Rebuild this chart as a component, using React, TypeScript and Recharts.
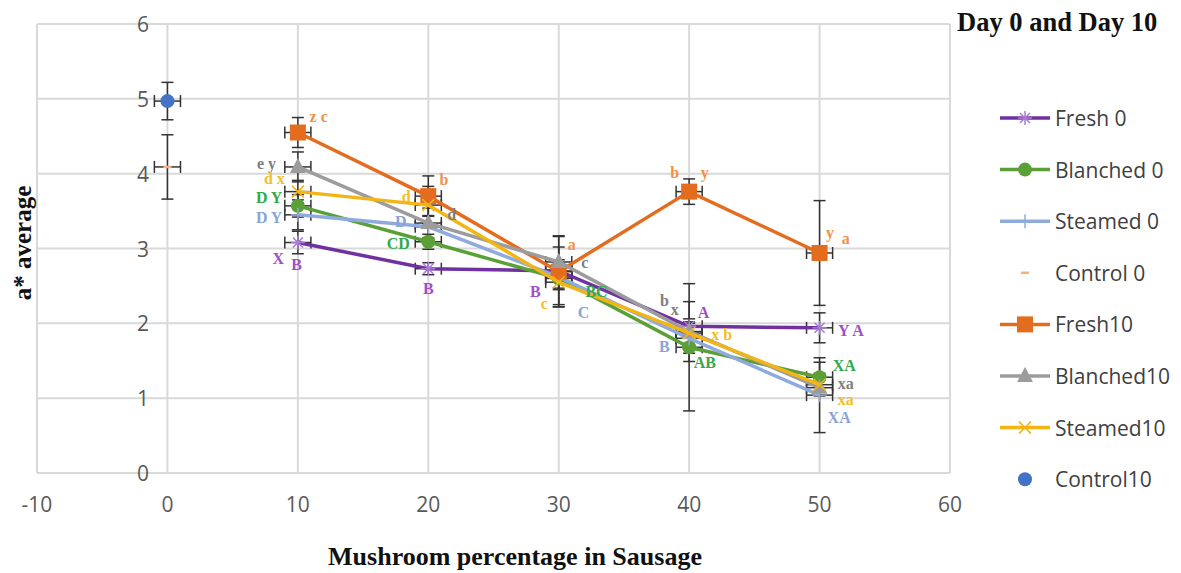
import React from 'react';
import { ComposedChart, Scatter, XAxis, YAxis, CartesianGrid, ErrorBar } from 'recharts';

// ---- data ----
const percentages = [10, 20, 30, 40, 50];
const controlPercent = [0];

const fresh0 = [3.08, 2.73, 2.70, 1.96, 1.94];
const blanched0 = [3.57, 3.09, 2.60, 1.68, 1.28];
const steamed0 = [3.45, 3.29, 2.62, 1.80, 1.04];
const control0 = [4.09];
const fresh10 = [4.55, 3.70, 2.69, 3.76, 2.94];
const blanched10 = [4.09, 3.34, 2.82, 1.89, 1.14];
const steamed10 = [3.76, 3.58, 2.55, 1.87, 1.18];
const control10 = [4.97];

const fresh0Err = [0.15, 0.08, 0.1, 0.1, 0.2];
const blanched0Err = [0.15, 0.1, 0.15, 0.85, 0.2];
const steamed0Err = [0.2, 0.15, 0.4, 0.2, 0.5];
const control0Err = [0.43];
const fresh10Err = [0.2, 0.27, 0.47, 0.17, 0.7];
const blanched10Err = [0.2, 0.2, 0.35, 0.4, 0.1];
const steamed10Err = [0.15, 0.25, 0.3, 0.15, 0.15];
const control10Err = [0.25];
const xErr = 1;

const xTicks = [-10, 0, 10, 20, 30, 40, 50, 60];
const yTicks = [0, 1, 2, 3, 4, 5, 6];

// significance letters (data coordinates)
const fresh0Notes = [
  { x: 8.5, y: 2.87, t: 'X' }, { x: 9.9, y: 2.78, t: 'B' }, { x: 20, y: 2.46, t: 'B' },
  { x: 28.2, y: 2.43, t: 'B' }, { x: 41.1, y: 2.15, t: 'A' }, { x: 52.4, y: 1.9, t: 'Y A' },
];
const blanched0Notes = [
  { x: 7.8, y: 3.68, t: 'D Y' }, { x: 17.7, y: 3.07, t: 'CD' }, { x: 32.9, y: 2.42, t: 'BC' },
  { x: 41.2, y: 1.48, t: 'AB' }, { x: 51.9, y: 1.43, t: 'XA' },
];
const steamed0Notes = [
  { x: 7.8, y: 3.42, t: 'D Y' }, { x: 17.9, y: 3.36, t: 'D' }, { x: 31.9, y: 2.15, t: 'C' },
  { x: 38.1, y: 1.69, t: 'B' }, { x: 51.5, y: 0.74, t: 'XA' },
];
const fresh10Notes = [
  { x: 11.6, y: 4.76, t: 'z c' }, { x: 21.2, y: 3.92, t: 'b' }, { x: 31.0, y: 3.06, t: 'a' },
  { x: 38.9, y: 4.02, t: 'b' }, { x: 41.2, y: 4.02, t: 'y' }, { x: 50.8, y: 3.22, t: 'y' },
  { x: 52.0, y: 3.13, t: 'a' },
];
const blanched10Notes = [
  { x: 7.6, y: 4.14, t: 'e y' }, { x: 21.8, y: 3.45, t: 'd' }, { x: 32.0, y: 2.81, t: 'c' },
  { x: 38.1, y: 2.31, t: 'b' }, { x: 38.9, y: 2.19, t: 'x' }, { x: 52.0, y: 1.2, t: 'xa' },
];
const steamed10Notes = [
  { x: 8.2, y: 3.93, t: 'd x' }, { x: 18.3, y: 3.69, t: 'd' }, { x: 28.9, y: 2.27, t: 'c' },
  { x: 42.5, y: 1.85, t: 'x b' }, { x: 52.0, y: 0.98, t: 'xa' },
];

const build = (xs: number[], ys: number[], es: number[]) =>
  xs.map((x, i) => ({ x, y: ys[i], ex: xErr, ey: es[i] }));

type Marker = 'asterisk' | 'circle' | 'plus' | 'dash' | 'square' | 'triangle' | 'cross';

const series: { name: string; data: any[]; color: string; markerColor: string; marker: Marker; line: boolean }[] = [
  { name: 'Fresh 0', data: build(percentages, fresh0, fresh0Err), color: '#7030A0', markerColor: '#A77BD6', marker: 'asterisk', line: true },
  { name: 'Blanched 0', data: build(percentages, blanched0, blanched0Err), color: '#5AA037', markerColor: '#5AA037', marker: 'circle', line: true },
  { name: 'Steamed 0', data: build(percentages, steamed0, steamed0Err), color: '#8FAADC', markerColor: '#8FAADC', marker: 'plus', line: true },
  { name: 'Control 0', data: build(controlPercent, control0, control0Err), color: '#F4B183', markerColor: '#F4B183', marker: 'dash', line: false },
  { name: 'Fresh10', data: build(percentages, fresh10, fresh10Err), color: '#E46C1F', markerColor: '#E46C1F', marker: 'square', line: true },
  { name: 'Blanched10', data: build(percentages, blanched10, blanched10Err), color: '#9C9C9C', markerColor: '#9C9C9C', marker: 'triangle', line: true },
  { name: 'Steamed10', data: build(percentages, steamed10, steamed10Err), color: '#F2B515', markerColor: '#F2B515', marker: 'cross', line: true },
  { name: 'Control10', data: build(controlPercent, control10, control10Err), color: '#4472C4', markerColor: '#4472C4', marker: 'circle', line: false },
];

const notes = [
  { data: fresh0Notes, color: '#A04FC8' },
  { data: blanched0Notes, color: '#34A84A' },
  { data: steamed0Notes, color: '#8AA4D6' },
  { data: fresh10Notes, color: '#F0924A' },
  { data: blanched10Notes, color: '#7F7F7F' },
  { data: steamed10Notes, color: '#F2BE2A' },
];

const drawMarker = (marker: Marker, cx: number, cy: number, color: string, key?: string) => {
  const r = 7;
  switch (marker) {
    case 'asterisk':
      return (
        <g key={key} stroke={color} strokeWidth={1.5}>
          <line x1={cx - r} y1={cy} x2={cx + r} y2={cy} />
          <line x1={cx} y1={cy - r} x2={cx} y2={cy + r} />
          <line x1={cx - 5} y1={cy - 5} x2={cx + 5} y2={cy + 5} />
          <line x1={cx - 5} y1={cy + 5} x2={cx + 5} y2={cy - 5} />
        </g>
      );
    case 'circle':
      return <circle key={key} cx={cx} cy={cy} r={7} fill={color} />;
    case 'plus':
      return (
        <g key={key} stroke={color} strokeWidth={1.5}>
          <line x1={cx - r} y1={cy} x2={cx + r} y2={cy} />
          <line x1={cx} y1={cy - r} x2={cx} y2={cy + r} />
        </g>
      );
    case 'dash':
      return <line key={key} x1={cx - 4} y1={cy} x2={cx + 4} y2={cy} stroke={color} strokeWidth={2.5} />;
    case 'square':
      return <rect key={key} x={cx - 8} y={cy - 8} width={16} height={16} fill={color} />;
    case 'triangle':
      return <polygon key={key} points={`${cx},${cy - 9} ${cx + 8},${cy + 6} ${cx - 8},${cy + 6}`} fill={color} />;
    case 'cross':
      return (
        <g key={key} stroke={color} strokeWidth={1.5}>
          <line x1={cx - 6} y1={cy - 6} x2={cx + 6} y2={cy + 6} />
          <line x1={cx - 6} y1={cy + 6} x2={cx + 6} y2={cy - 6} />
        </g>
      );
  }
  return null;
};

const serif = '"Liberation Serif", "Times New Roman", serif';
const sans = '"Open Sans", sans-serif';

const LegendBlock = () => (
  <g>
    {series.map((s, i) => {
      const y = 118 + i * 51.6;
      return (
        <g key={s.name}>
          {s.line && <line x1={1000} y1={y} x2={1050} y2={y} stroke={s.color} strokeWidth={3.5} />}
          {drawMarker(s.marker, 1025, y, s.markerColor)}
          <text x={1055} y={y} dominantBaseline="central" fontFamily={sans} fontSize={21} fill="#404040">
            {s.name}
          </text>
        </g>
      );
    })}
  </g>
);

const YTick = (p: any) => (
  <text
    x={p.x + 112}
    y={p.y}
    textAnchor="end"
    dominantBaseline="central"
    fontFamily={sans}
    fontSize={21}
    fill="#595959"
  >
    {p.payload.value}
  </text>
);

export default function App() {
  return (
    <div style={{ position: 'absolute', left: 0, top: 0, width: 1181, height: 573, background: '#fff' }}>
      <ComposedChart width={1181} height={573} margin={{ top: 24, right: 231, bottom: 70, left: 36 }}>
        <CartesianGrid stroke="#D9D9D9" strokeWidth={2} />
        <XAxis
          type="number"
          dataKey="x"
          domain={[-10, 60]}
          ticks={xTicks}
          height={30}
          tickLine={false}
          axisLine={{ stroke: '#D9D9D9', strokeWidth: 2 }}
          tickMargin={18}
          tick={{ fill: '#595959', fontSize: 21, fontFamily: sans }}
          allowDataOverflow
        />
        <YAxis
          type="number"
          dataKey="y"
          domain={[0, 6]}
          ticks={yTicks}
          width={1}
          tickLine={false}
          axisLine={false}
          tickMargin={0}
          tickSize={0}
          tick={<YTick />}
          allowDataOverflow
        />
        {series.map((s) => (
          <Scatter
            key={s.name}
            name={s.name}
            data={s.data}
            line={s.line ? { stroke: s.color, strokeWidth: 3.5 } : false}
            lineType="joint"
            isAnimationActive={false}
            shape={(p: any) => drawMarker(s.marker, p.cx, p.cy, s.markerColor)}
          >
            <ErrorBar dataKey="ey" direction="y" width={6} stroke="#333333" strokeWidth={1.5} />
            <ErrorBar dataKey="ex" direction="x" width={6} stroke="#333333" strokeWidth={1.5} />
          </Scatter>
        ))}
        {notes.map((n, i) => (
          <Scatter
            key={`note-${i}`}
            data={n.data}
            isAnimationActive={false}
            shape={(p: any) => (
              <text
                x={p.cx}
                y={p.cy}
                textAnchor="middle"
                dominantBaseline="central"
                fontFamily={serif}
                fontWeight="bold"
                fontSize={16}
                fill={n.color}
              >
                {p.payload.t}
              </text>
            )}
          />
        ))}
        <LegendBlock />
        <text x={957} y={22} dominantBaseline="central" fontFamily={serif} fontWeight="bold" fontSize={26.5} fill="#111">
          Day 0 and Day 10
        </text>
        <text x={515} y={556} textAnchor="middle" dominantBaseline="central" fontFamily={serif} fontWeight="bold" fontSize={26} fill="#111">
          Mushroom percentage in Sausage
        </text>
        <text
          x={22}
          y={243}
          textAnchor="middle"
          dominantBaseline="central"
          fontFamily={serif}
          fontWeight="bold"
          fontSize={25}
          fill="#111"
          transform="rotate(-90 22 243)"
        >
          a* average
        </text>
      </ComposedChart>
    </div>
  );
}
